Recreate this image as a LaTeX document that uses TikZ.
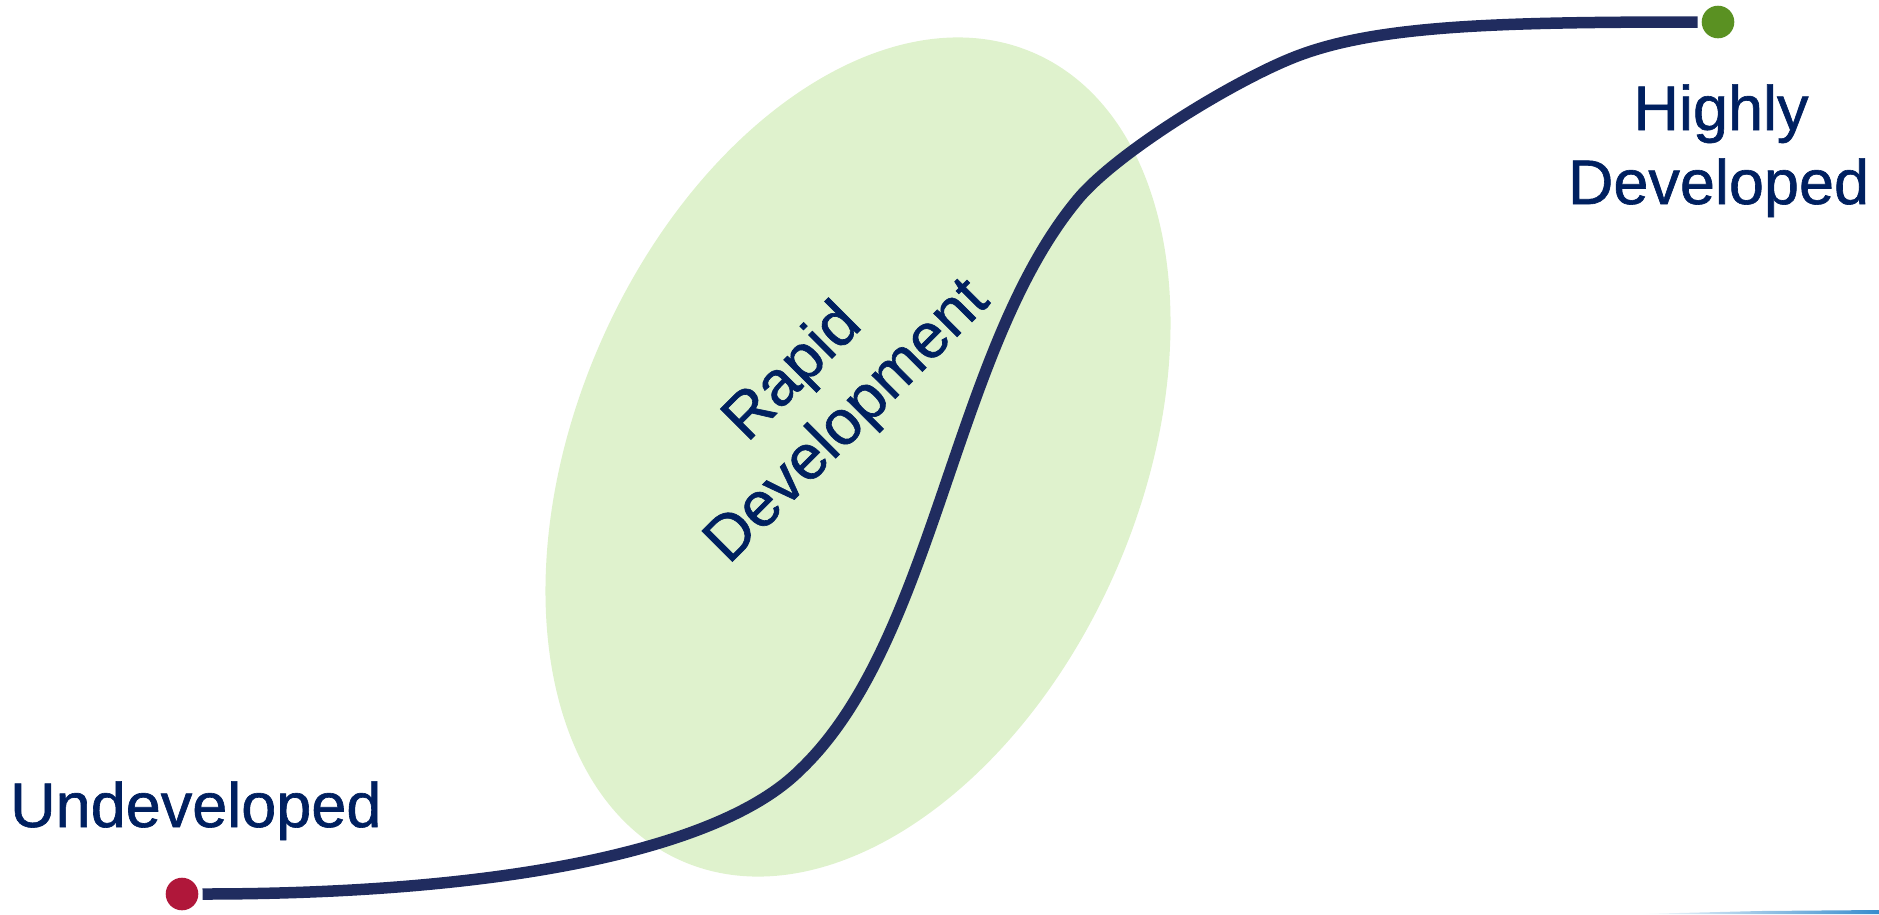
\documentclass[tikz,border=0pt]{standalone}
\usepackage{fontspec}
\setmainfont[FakeBold=1]{Liberation Sans}
\definecolor{textblue}{RGB}{0,32,96}
\definecolor{curveblue}{RGB}{32,44,95}
\definecolor{lightgreen}{RGB}{223,242,205}
\definecolor{dotred}{RGB}{176,23,58}
\definecolor{dotgreen}{RGB}{90,145,34}
\definecolor{edgeblue}{RGB}{55,140,205}
\tikzset{
  label text/.style={text=textblue, font=\fontsize{63}{74}\selectfont, inner sep=0pt},
  enddot/.style={circle, minimum size=32.6pt, inner sep=0pt},
  scurve/.style={draw=curveblue, line width=11.5pt, line cap=butt},
}
\begin{document}
\begin{tikzpicture}[x=1pt, y=-1pt]
\useasboundingbox (0,0) rectangle (1879,914);
% ellipse
\fill[lightgreen, rotate around={66.5:(858,457)}] (858,457) ellipse [x radius=440.7, y radius=281.8];
% rotated label
\node[label text, anchor=base, rotate=45] (rapid) at (805.5,385) {Rapid};
\node[label text, anchor=base, rotate=45] (devel) at (860,434) {Development};
% dots
\node[enddot, fill=dotred] (u) at (182,894) {};
\node[enddot, fill=dotgreen] (h) at (1718,22) {};
\coordinate (s) at ([xshift=4pt]u.east);
\coordinate (e) at ([xshift=-4pt]h.west);
% S curve
\draw[scurve] (s) .. controls (502,894) and (720,850) .. (800,770)
  .. controls (935,641.75) and (953,349) .. (1078,199)
  .. controls (1118,151) and (1240,77) .. (1300,55)
  .. controls (1380,25.4) and (1498,22) .. (e);
% labels
\node[label text, anchor=base west] (undev) at (10,827) {Undeveloped};
\node[label text, anchor=base] (highly) at (1721,130) {Highly};
\node[label text, anchor=base] (hdev) at (1718.5,204) {Developed};
% bottom-right blue edge
\shade[left color=white, right color=edgeblue] (1638,914) -- (1760,911) -- (1879,910) -- (1879,914) -- cycle;
\end{tikzpicture}
\end{document}
